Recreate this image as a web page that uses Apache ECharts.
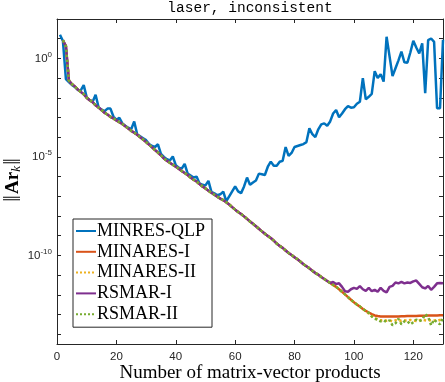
<!DOCTYPE html>
<html><head><meta charset="utf-8">
<script src="https://cdn.jsdelivr.net/npm/echarts@6/dist/echarts.min.js"></script>
<style>html,body{margin:0;padding:0;background:#fff}#c{width:445px;height:382px}</style>
</head><body><div id="c"></div>
<script>
// x: number of matrix-vector products (k = 1..130); y values are log10(||A r_k||)
const xTickValues = [0, 20, 40, 60, 80, 100, 120];
const yTickExponents = [-14, -13, -12, -11, -10, -9, -8, -7, -6, -5, -4, -3, -2, -1, 0, 1, 2];
const yLabelExponents = [-10, -5, 0];
const seriesNames = ['MINRES-QLP', 'MINARES-I', 'MINARES-II', 'RSMAR-I', 'RSMAR-II'];

// MINRES-QLP, k = 1..130
const minresQlp = [
  1.2, 0.88, -1.05, -1.2, -1.35, -1.45, -1.6, -1.62, -1.35, -1.98,
  -2.12, -2.2, -1.85, -2.48, -2.6, -2.68, -2.55, -2.55, -2.95, -3.12,
  -3.02, -3.3, -3.42, -3.52, -3.6, -3.2, -3.85, -3.95, -4.05, -4.15,
  -4.35, -4.45, -4.5, -4.36, -4.85, -5.0, -5.12, -5.18, -4.98, -5.42,
  -5.55, -5.6, -5.35, -5.85, -5.95, -6.05, -6.0, -6.35, -6.42, -6.45,
  -6.22, -6.78, -6.85, -6.95, -6.9, -6.76, -7.25, -7.0, -6.75, -6.5,
  -6.75, -6.84, -6.5, -6.05, -6.42, -6.3, -6.2, -5.85, -5.88, -5.92,
  -5.5, -5.24, -5.45, -5.45, -5.25, -5.2, -4.5, -4.95, -4.8, -4.5,
  -4.45, -4.4, -4.35, -4.25, -3.55, -3.85, -4.0, -3.6, -3.35, -3.3,
  -3.42, -3.2, -2.8, -2.62, -2.99, -2.8, -2.58, -2.42, -2.5, -2.48,
  -2.3, -2.2, -1.0, -2.08, -1.95, -1.8, -0.65, -1.0, -0.8, -1.18,
  1.1, 0.1, -0.9, -0.5, -0.1, 0.34, -0.2, -0.22, 0.3, 0.89,
  0.55, 0.25, 0.76, -1.77, 0.93, 1.01, 0.84, -2.53, -2.53, 0.95
];

// common descent shared by MINARES-I/II and RSMAR-I/II, k = 2..92
const sharedDescent = [
  0.92, 0.62, -1.12, -1.3, -1.42, -1.58, -1.7, -1.82, -2.0,
  -2.12, -2.22, -2.38, -2.5, -2.62, -2.76, -2.85, -2.97, -3.05, -3.15,
  -3.24, -3.33, -3.45, -3.56, -3.68, -3.77, -3.88, -4.0, -4.12, -4.25,
  -4.38, -4.52, -4.65, -4.78, -4.92, -5.08, -5.2, -5.3, -5.4, -5.5,
  -5.6, -5.72, -5.82, -5.92, -6.05, -6.16, -6.25, -6.38, -6.5, -6.6,
  -6.72, -6.82, -6.92, -7.02, -7.12, -7.2, -7.3, -7.42, -7.55, -7.68,
  -7.8, -7.9, -8.02, -8.15, -8.28, -8.4, -8.52, -8.65, -8.78, -8.9,
  -9.02, -9.12, -9.25, -9.4, -9.52, -9.62, -9.75, -9.88, -9.98, -10.1,
  -10.2, -10.32, -10.45, -10.55, -10.66, -10.78, -10.9, -10.98, -11.1, -11.2,
  -11.3, -11.4
];
// k = 93..104, shared by MINARES-I, MINARES-II, RSMAR-II
const minaresTail = [-11.5, -11.6, -11.72, -11.85, -11.98, -12.12, -12.25, -12.38, -12.5, -12.6, -12.72, -12.82];
// k = 105..130
const minaresIEnd = [-12.9, -12.98, -13.05, -13.08, -13.1, -13.1, -13.1, -13.1, -13.1, -13.1, -13.1, -13.09, -13.09,
  -13.08, -13.08, -13.08, -13.08, -13.07, -13.06, -13.06, -13.05, -13.05, -13.05, -13.05, -13.04, -13.04];
const minaresIIEnd = [-12.95, -13.08, -13.18, -13.25, -13.3, -13.28, -13.32, -13.3, -13.35, -13.3, -13.28, -13.33, -13.3,
  -13.32, -13.28, -13.3, -13.34, -13.3, -13.27, -13.3, -13.32, -13.28, -13.3, -13.33, -13.28, -13.3];
const rsmarIIEnd = [-12.92, -13.1, -13.22, -13.26, -13.35, -13.3, -13.38, -13.3, -13.55, -13.45, -13.22, -13.5, -13.35,
  -13.34, -13.5, -13.4, -13.26, -13.34, -13.28, -12.98, -13.12, -13.55, -13.26, -13.4, -13.5, -13.18];
// RSMAR-I, k = 93..130
const rsmarITail = [-11.35, -11.45, -11.42, -11.6, -11.82, -11.85, -11.72, -11.65, -11.7, -11.56, -11.72, -11.8, -11.65,
  -11.82, -11.75, -11.85, -11.65, -11.8, -11.88, -11.6, -11.55, -11.38, -11.42, -11.35, -11.42, -11.38, -11.4,
  -11.32, -11.28, -11.45, -11.62, -11.68, -11.55, -11.75, -11.6, -11.42, -11.4, -11.42];

const colors = ['#0072BD', '#D95319', '#EDB120', '#7E2F8E', '#77AC30'];
const lineTypes = ['solid', 'solid', 'dotted', 'solid', 'dotted'];

function pairs(vals, firstK) { return vals.map((v, i) => [firstK + i, v]); }
const seriesValues = [
  pairs(minresQlp, 1),
  pairs(sharedDescent.concat(minaresTail, minaresIEnd), 2),
  pairs(sharedDescent.concat(minaresTail, minaresIIEnd), 2),
  pairs(sharedDescent.concat(rsmarITail), 2),
  pairs(sharedDescent.concat(minaresTail, rsmarIIEnd), 2)
];

const axisColor = '#262626';
const chart = echarts.init(document.getElementById('c'), null, { renderer: 'canvas' });
const commonX = {
  type: 'value', min: 0, max: 130,
  axisLine: { show: true, onZero: false, lineStyle: { color: axisColor, width: 1 } },
  axisTick: { show: true, inside: true, length: 4, customValues: xTickValues, lineStyle: { color: axisColor } },
  splitLine: { show: false }
};
const commonY = {
  type: 'value', min: -14.5, max: 2,
  axisLine: { show: true, onZero: false, lineStyle: { color: axisColor, width: 1 } },
  axisTick: { show: true, inside: true, length: 4, customValues: yTickExponents, lineStyle: { color: axisColor } },
  splitLine: { show: false }
};
chart.setOption({
  animation: false,
  backgroundColor: '#fff',
  grid: { left: 57, right: 2, top: 19, bottom: 38, containLabel: false },
  xAxis: [
    Object.assign({}, commonX, { position: 'bottom',
      axisLabel: { customValues: xTickValues, color: axisColor, fontSize: 11.5, fontFamily: 'Liberation Sans', margin: 7 } }),
    Object.assign({}, commonX, { position: 'top', axisLabel: { show: false } })
  ],
  yAxis: [
    Object.assign({}, commonY, { position: 'left',
      axisLabel: { customValues: yLabelExponents, margin: 5,
        formatter: v => '{b|10}{s|' + v + '}',
        rich: {
          b: { fontSize: 11.5, fontFamily: 'Liberation Sans', color: axisColor },
          s: { fontSize: 8, fontFamily: 'Liberation Sans', color: axisColor, padding: [0, 0, 8, 0] }
        } } }),
    Object.assign({}, commonY, { position: 'right', axisLabel: { show: false } })
  ],
  legend: {
    orient: 'vertical', left: 73, top: 219,
    padding: [3, 7, 4, 2], itemGap: 2.8, itemWidth: 20, itemHeight: 14,
    borderColor: axisColor, borderWidth: 1, backgroundColor: '#fff',
    itemStyle: { opacity: 0 },
    textStyle: { fontFamily: 'Liberation Serif', fontSize: 18, color: '#000', padding: [0, 0, 0, -4] },
    data: seriesNames
  },
  graphic: [
    { type: 'text', x: 250, y: 8, style: { text: 'laser, inconsistent', font: '14.5px "Liberation Mono"', fill: '#000', align: 'center', verticalAlign: 'middle' } },
    { type: 'text', x: 250, y: 373, style: { text: 'Number of matrix-vector products', font: '19px "Liberation Serif"', fill: '#000', align: 'center', verticalAlign: 'middle' } },
    { type: 'text', x: 13, y: 180, rotation: Math.PI / 2,
      style: { text: '{n|‖}{b|Ar}{k|k}{n|‖}', align: 'center', verticalAlign: 'middle', fill: '#000',
        rich: {
          n: { fontSize: 25, fontFamily: 'Liberation Serif', fill: '#000', padding: [0, 1, 0, 1] },
          b: { fontSize: 19, fontFamily: 'Liberation Serif', fontWeight: 'bold', fill: '#000' },
          k: { fontSize: 13, fontFamily: 'Liberation Serif', fontStyle: 'italic', fill: '#000', padding: [8, 0, 0, 0] }
        } } }
  ],
  series: seriesNames.map((name, i) => ({
    name, type: 'line', data: seriesValues[i],
    symbol: 'none', showSymbol: false, smooth: false,
    xAxisIndex: 0, yAxisIndex: 0,
    itemStyle: { color: colors[i] },
    lineStyle: { color: colors[i], width: 2.5, type: lineTypes[i] },
    z: 2 + i
  }))
});
</script></body></html>
